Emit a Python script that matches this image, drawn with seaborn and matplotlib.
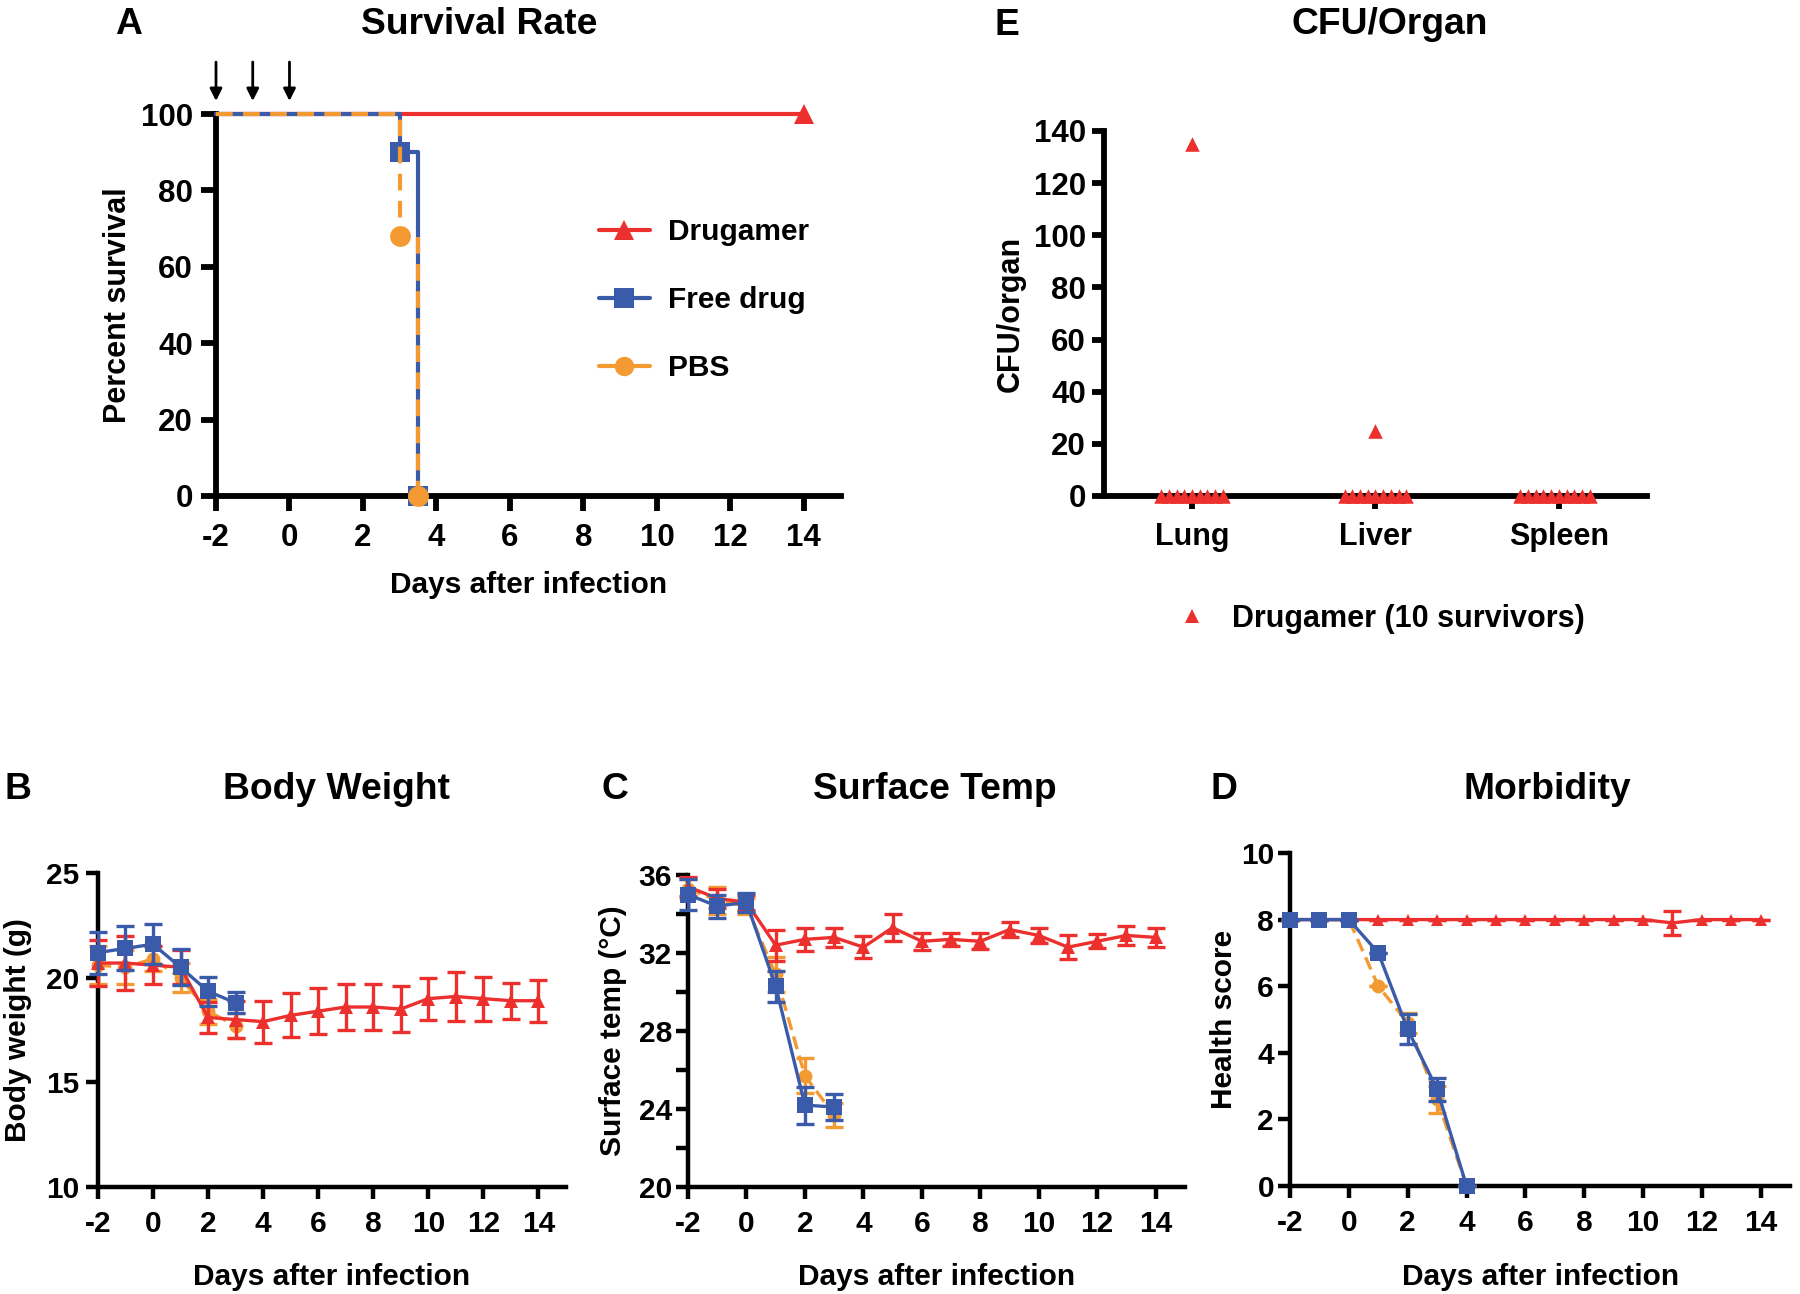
import matplotlib
matplotlib.use("Agg")
import matplotlib.pyplot as plt
from matplotlib.lines import Line2D
import pandas as pd
import seaborn as sns

# ---- data -------------------------------------------------------------
RED = "#EC302E"
BLUE = "#3A5BAA"
ORANGE = "#F39A33"

# A: survival (Kaplan-Meier steps)
surv_days_drugamer = [-2, 14]
surv_pct_drugamer = [100, 100]
surv_days_free = [-2, 3, 3.5]
surv_pct_free = [100, 90, 0]
surv_days_pbs = [-2, 3, 3.5]
surv_pct_pbs = [100, 68, 0]
dose_days = [-2, -1, 0]

days_long = list(range(-2, 15))
days_short = list(range(-2, 4))
days_morb = list(range(-2, 5))

# B: body weight (g), mean and error
bw_drugamer = [20.7, 20.7, 20.6, 20.5, 18.1, 18.0, 17.9, 18.2, 18.4, 18.6, 18.6,
               18.5, 19.0, 19.1, 19.0, 18.9, 18.9]
bw_drugamer_err = [1.1, 1.3, 0.9, 0.8, 0.75, 0.9, 1.0, 1.05, 1.1, 1.1, 1.1, 1.1,
                   1.0, 1.15, 1.05, 0.85, 1.0]
bw_free = [21.2, 21.4, 21.6, 20.5, 19.35, 18.8]
bw_free_err = [1.0, 1.05, 0.95, 0.85, 0.7, 0.5]
bw_pbs = [20.6, 20.5, 20.9, 20.0, 18.4, 17.7]
bw_pbs_err = [0.9, 0.8, 0.6, 0.7, 0.6, 0.6]

# C: surface temperature (deg C)
st_drugamer = [35.4, 34.8, 34.6, 32.4, 32.7, 32.8, 32.3, 33.3, 32.6, 32.7, 32.6,
               33.2, 32.9, 32.3, 32.6, 32.9, 32.8]
st_drugamer_err = [0.5, 0.5, 0.4, 0.8, 0.6, 0.5, 0.55, 0.7, 0.45, 0.35, 0.4, 0.4,
                   0.4, 0.6, 0.35, 0.5, 0.5]
st_free = [35.0, 34.4, 34.6, 30.3, 24.2, 24.1]
st_free_err = [0.8, 0.6, 0.5, 0.8, 0.95, 0.65]
st_pbs = [35.3, 34.7, 34.4, 30.9, 25.7, 23.7]
st_pbs_err = [0.5, 0.7, 0.4, 0.9, 0.9, 0.6]

# D: health score
hs_drugamer = [8, 8, 8, 8, 8, 8, 8, 8, 8, 8, 8, 8, 8, 7.9, 8, 8, 8]
hs_drugamer_err = [0, 0, 0, 0, 0, 0, 0, 0, 0, 0, 0, 0, 0, 0.35, 0, 0, 0]
hs_free = [8, 8, 8, 7, 4.7, 2.9, 0]
hs_free_err = [0, 0, 0, 0, 0.45, 0.35, 0]
hs_pbs = [8, 8, 8, 6, 4.9, 2.6, 0]
hs_pbs_err = [0, 0, 0, 0, 0.3, 0.4, 0]

# E: CFU per organ, 10 drugamer survivors
organs = ["Lung", "Liver", "Spleen"]
cfu_lung = [135, 0, 0, 0, 0, 0, 0, 0, 0, 0]
cfu_liver = [25, 0, 0, 0, 0, 0, 0, 0, 0, 0]
cfu_spleen = [0, 0, 0, 0, 0, 0, 0, 0, 0, 0]

# ---- style ------------------------------------------------------------
sns.set_style("ticks")
plt.rcParams["font.family"] = ["Liberation Sans", "DejaVu Sans"]
plt.rcParams["font.weight"] = "bold"
plt.rcParams["axes.labelweight"] = "bold"
plt.rcParams["axes.unicode_minus"] = False
for key in ["text.color", "axes.labelcolor", "xtick.color", "ytick.color"]:
    plt.rcParams[key] = "black"

fig = plt.figure(figsize=(18, 12.94), dpi=100)
axA = fig.add_axes([0.120, 0.6167, 0.347, 0.2952])
axE = fig.add_axes([0.6133, 0.6167, 0.3017, 0.2821])
axB = fig.add_axes([0.0544, 0.0827, 0.260, 0.2426])
axC = fig.add_axes([0.3822, 0.0827, 0.2761, 0.2411])
axD = fig.add_axes([0.7167, 0.0835, 0.2778, 0.2573])


def style_axis(ax, spine_w, tick_fs, tick_len, pad):
    sns.despine(ax=ax)
    for side in ["left", "bottom"]:
        ax.spines[side].set_linewidth(spine_w)
        ax.spines[side].set_color("black")
    ax.tick_params(axis="both", length=tick_len, width=spine_w, labelsize=tick_fs,
                   colors="black", pad=pad)


# ---- A: survival ------------------------------------------------------
sns.lineplot(x=surv_days_drugamer, y=surv_pct_drugamer, ax=axA, color=RED,
             lw=3, marker="^", markersize=15, markeredgewidth=0, markevery=[1],
             drawstyle="steps-post", estimator=None, sort=False, clip_on=False, zorder=3)
sns.lineplot(x=surv_days_free, y=surv_pct_free, ax=axA, color=BLUE,
             lw=3, marker="s", markersize=15, markeredgewidth=0, markevery=[1, 2],
             drawstyle="steps-post", estimator=None, sort=False, clip_on=False, zorder=3)
sns.lineplot(x=surv_days_pbs, y=surv_pct_pbs, ax=axA, color=ORANGE,
             lw=3, marker="o", markersize=15, markeredgewidth=0, markevery=[1, 2],
             linestyle=(0, (4, 2.5)),
             drawstyle="steps-post", estimator=None, sort=False, clip_on=False, zorder=3)
axA.set_xlim(-2, 15)
axA.set_ylim(0, 100)
axA.set_xticks(range(-2, 15, 2))
axA.set_yticks(range(0, 101, 20))
style_axis(axA, 4.2, 22.5, 10.5, 6)
axA.tick_params(axis="x", pad=9)
axA.set_xlabel("Days after infection", fontsize=21.5, labelpad=13)
axA.set_ylabel("Percent survival", fontsize=22, labelpad=6)
for d in dose_days:
    axA.annotate("", xy=(d, 103.4), xytext=(d, 113.6), annotation_clip=False,
                 arrowprops=dict(arrowstyle="-|>", color="black", lw=2,
                                 mutation_scale=18, shrinkA=0, shrinkB=0))
legA = [Line2D([], [], color=RED, lw=3, marker="^", ms=15, mew=0),
        Line2D([], [], color=BLUE, lw=3, marker="s", ms=14, mew=0),
        Line2D([], [], color=ORANGE, lw=3, marker="o", ms=14, mew=0)]
axA.legend(legA, ["Drugamer", "Free drug", "PBS"], loc="upper left",
           bbox_to_anchor=(0.3328, 0.8314), bbox_transform=fig.transFigure,
           frameon=False, fontsize=21.5, handlelength=1.7, handletextpad=0.6,
           labelspacing=1.34, borderpad=0, borderaxespad=0)

# ---- B / C / D: time courses ----------------------------------------


def draw_course(ax, days, mean, err, color, marker, ms, dashed=False):
    sns.lineplot(x=days, y=mean, ax=ax, color=color, marker=marker, markersize=ms,
                 markeredgewidth=0, lw=2.4, estimator=None, sort=False,
                 linestyle=(0, (4, 2)) if dashed else "-", clip_on=False, zorder=3)
    ax.errorbar(days, mean, yerr=err, fmt="none", ecolor=color, elinewidth=2.4,
                capsize=6.5, capthick=2.4, zorder=3, clip_on=False)


draw_course(axB, days_short, bw_pbs, bw_pbs_err, ORANGE, "o", 10, dashed=True)
draw_course(axB, days_long, bw_drugamer, bw_drugamer_err, RED, "^", 9.5)
draw_course(axB, days_short, bw_free, bw_free_err, BLUE, "s", 12)
axB.set_xlim(-2, 15)
axB.set_ylim(10, 25)
axB.set_xticks(range(-2, 15, 2))
axB.set_yticks(range(10, 26, 5))
style_axis(axB, 3.2, 21.5, 8.5, 5)
axB.tick_params(axis="x", pad=8)
axB.set_xlabel("Days after infection", fontsize=21.5, labelpad=18)
axB.set_ylabel("Body weight (g)", fontsize=21.5, labelpad=10)

draw_course(axC, days_short, st_pbs, st_pbs_err, ORANGE, "o", 10, dashed=True)
draw_course(axC, days_long, st_drugamer, st_drugamer_err, RED, "^", 10)
draw_course(axC, days_short, st_free, st_free_err, BLUE, "s", 12)
axC.set_xlim(-2, 15)
axC.set_ylim(20, 36)
axC.set_xticks(range(-2, 15, 2))
c_ticks = list(range(20, 37, 2))
axC.set_yticks(c_ticks)
axC.set_yticklabels([str(t) if t % 4 == 0 else "" for t in c_ticks])
style_axis(axC, 3.2, 21.5, 8.5, 3)
axC.tick_params(axis="x", pad=8)
axC.set_xlabel("Days after infection", fontsize=21.5, labelpad=18)
axC.set_ylabel("Surface temp (\u00b0C)", fontsize=21.5, labelpad=8)

draw_course(axD, days_morb, hs_pbs, hs_pbs_err, ORANGE, "o", 10, dashed=True)
draw_course(axD, days_long, hs_drugamer, hs_drugamer_err, RED, "^", 8.5)
draw_course(axD, days_morb, hs_free, hs_free_err, BLUE, "s", 12)
axD.set_xlim(-2, 15)
axD.set_ylim(0, 10)
axD.set_xticks(range(-2, 15, 2))
axD.set_yticks(range(0, 11, 2))
style_axis(axD, 3.2, 21.5, 8.5, 3)
axD.tick_params(axis="x", pad=8)
axD.set_xlabel("Days after infection", fontsize=21.5, labelpad=19)
axD.set_ylabel("Health score", fontsize=21.5, labelpad=2)

# ---- E: CFU per organ -----------------------------------------------
cfu = pd.DataFrame({
    "organ": [organs[0]] * len(cfu_lung) + [organs[1]] * len(cfu_liver)
    + [organs[2]] * len(cfu_spleen),
    "cfu": cfu_lung + cfu_liver + cfu_spleen,
})
sns.swarmplot(data=cfu, x="organ", y="cfu", order=organs, ax=axE, color=RED,
              marker="^", size=5.3, linewidth=0, zorder=3, clip_on=False)
axE.set_xlim(-0.48, 2.48)
axE.set_ylim(0, 140)
axE.set_yticks(range(0, 141, 20))
axE.set_xlabel("")
style_axis(axE, 4.2, 22.5, 9, 4)
axE.tick_params(axis="x", labelsize=22, pad=10)
axE.set_ylabel("CFU/organ", fontsize=22, labelpad=6)

# let seaborn lay out the swarm, then freeze it and enlarge the triangles
fig.canvas.draw()
for coll in axE.collections:
    if "draw" in coll.__dict__:
        del coll.draw
    coll.set_sizes([110])

axE.legend([Line2D([], [], color=RED, marker="^", ls="none", ms=10.5, mew=0)],
           ["Drugamer (10 survivors)"], loc="center left",
           bbox_to_anchor=(0.654, 0.522), bbox_transform=fig.transFigure,
           frameon=False, fontsize=22, handlelength=1.0, handletextpad=0.8,
           borderpad=0, borderaxespad=0)

# ---- panel letters and titles ----------------------------------------
titles = [("A", 0.0714, 0.981), ("Survival Rate", 0.266, 0.981),
          ("E", 0.5593, 0.980), ("CFU/Organ", 0.772, 0.981),
          ("B", 0.0102, 0.390), ("Body Weight", 0.1869, 0.390),
          ("C", 0.3418, 0.390), ("Surface Temp", 0.5192, 0.390),
          ("D", 0.6799, 0.390), ("Morbidity", 0.8598, 0.390)]
for txt, x, y in titles:
    fig.text(x, y, txt, ha="center", va="center", fontsize=26.8, fontweight="bold")

fig.savefig("out.png", dpi=100)
